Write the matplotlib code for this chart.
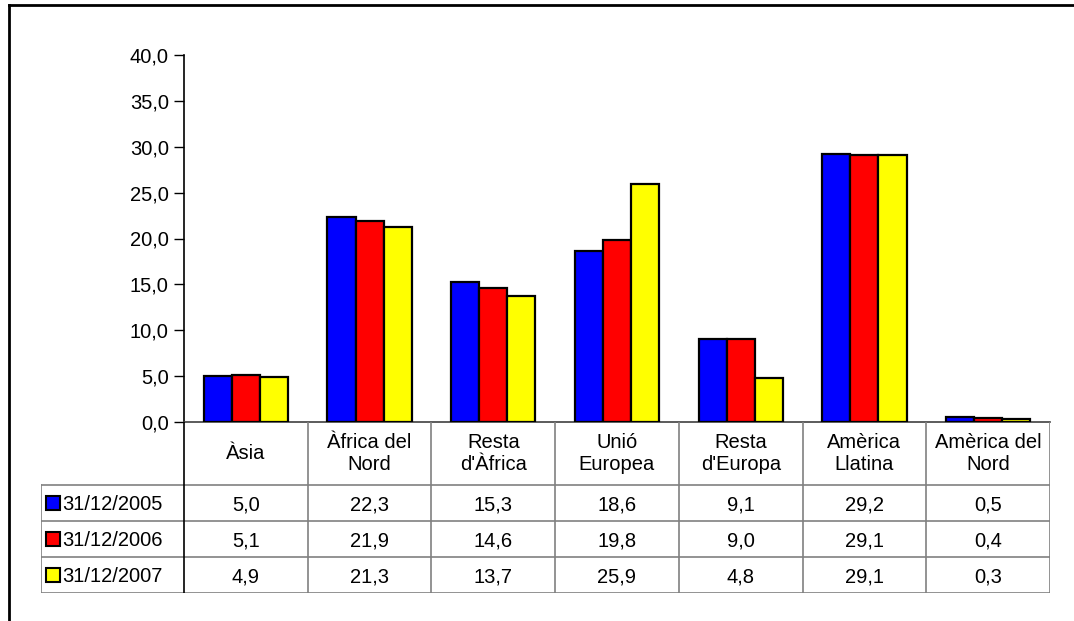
import matplotlib
matplotlib.use('Agg')
import matplotlib.pyplot as plt
import numpy as np

plt.rcParams['font.family'] = ['Liberation Sans', 'DejaVu Sans']

# data
categories = ['Àsia', 'Àfrica del\nNord', 'Resta\nd\'Àfrica', 'Unió\nEuropea',
              'Resta\nd\'Europa', 'Amèrica\nLlatina', 'Amèrica del\nNord']
series_names = ['31/12/2005', '31/12/2006', '31/12/2007']
v2005 = [5.0, 22.3, 15.3, 18.6, 9.1, 29.2, 0.5]
v2006 = [5.1, 21.9, 14.6, 19.8, 9.0, 29.1, 0.4]
v2007 = [4.9, 21.3, 13.7, 25.9, 4.8, 29.1, 0.3]
colors = ['#0000FF', '#FF0000', '#FFFF00']
yticks = [0, 5, 10, 15, 20, 25, 30, 35, 40]

W, H = 1074, 621
fs = 14.5
fig = plt.figure(figsize=(W / 100, H / 100), dpi=100)

def fx(px):
    return px / W

def fy(py):
    return 1 - py / H

# outer frame (top and left visible)
fig.add_artist(plt.Line2D([fx(9), fx(1074)], [fy(5), fy(5)], color='black', lw=2))
fig.add_artist(plt.Line2D([fx(9), fx(9)], [fy(5), fy(621)], color='black', lw=2))

# bar axes
x0, x1, ytop, ybot = 184, 1050, 55, 422
ax = fig.add_axes([fx(x0), fy(ybot), fx(x1) - fx(x0), fy(ytop) - fy(ybot)])
n = len(categories)
x = np.arange(n) + 0.5
bw = 0.227
for i, vals in enumerate([v2005, v2006, v2007]):
    ax.bar(x + (i - 1) * bw, vals, width=bw, color=colors[i], edgecolor='black', lw=1.6, zorder=3)
ax.set_xlim(0, n)
ax.set_ylim(0, 40)
ax.set_yticks(yticks)
ax.set_yticklabels([f'{t:.1f}'.replace('.', ',') for t in yticks], fontsize=fs)
ax.tick_params(axis='y', direction='out', length=7, width=1, pad=4)
ax.set_xticks([])
for s in ['top', 'right']:
    ax.spines[s].set_visible(False)
ax.spines['left'].set_linewidth(1.2)
ax.spines['bottom'].set_linewidth(1.2)
ax.spines['bottom'].set_color('#404040')

# data table
tl, tr, ttop, tbot = 41, 1050, 422, 593
tax = fig.add_axes([fx(tl), fy(tbot), fx(tr) - fx(tl), fy(ttop) - fy(tbot)])
colw = (x1 - x0) / n
legw = (x0 - tl) / colw
tax.set_xlim(-legw, n)
tax.set_ylim(tbot - ttop, 0)
tax.axis('off')
hdr = 63
rowh = (tbot - ttop - hdr) / 3
grey = '#808080'
# horizontal lines
for r in range(4):
    yy = hdr + r * rowh
    tax.plot([-legw, n], [yy, yy], color=grey, lw=1.2)
# vertical lines
tax.plot([-legw, -legw], [hdr, tbot - ttop], color=grey, lw=1.2)
tax.plot([0, 0], [0, tbot - ttop], color='black', lw=1.2)
for c in range(1, n + 1):
    tax.plot([c, c], [0, tbot - ttop], color=grey, lw=1.2)
for c, cat in enumerate(categories):
    tax.text(c + 0.5, hdr / 2, cat, ha='center', va='center', fontsize=fs, linespacing=1.15)
for r, vals in enumerate([v2005, v2006, v2007]):
    yy = hdr + (r + 0.5) * rowh
    for c, v in enumerate(vals):
        tax.text(c + 0.5, yy, f'{v:.1f}'.replace('.', ','), ha='center', va='center_baseline', fontsize=fs)
    tax.plot([-legw + 0.095], [yy], marker='s', markersize=10, color=colors[r],
             markeredgecolor='black', markeredgewidth=1.5, clip_on=False)
    tax.text(-legw + 0.17, yy, series_names[r], ha='left', va='center_baseline', fontsize=fs)

fig.savefig('out.png', dpi=100)
